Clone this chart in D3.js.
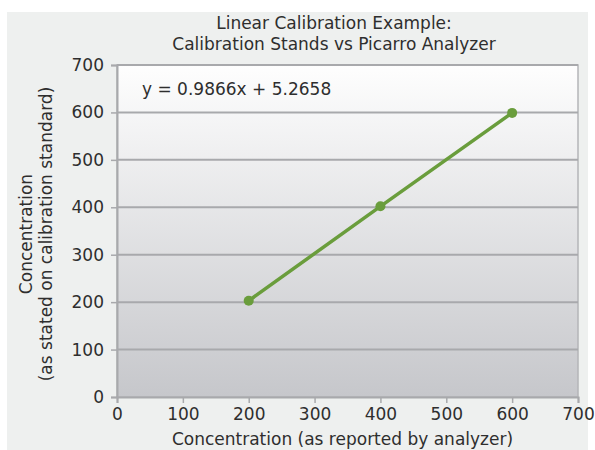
<!DOCTYPE html>
<html>
<head>
<meta charset="utf-8">
<script src="https://cdn.jsdelivr.net/npm/d3@7"></script>
<style>
  body { margin: 0; background: #fff; }
  text { font-family: "DejaVu Sans", sans-serif; fill: #2e2e2e; }
</style>
</head>
<body>
<div id="chart"></div>
<script>
// data
var reported = [200, 400, 600];
var stated = [203, 402, 599];
var xTicks = [0, 100, 200, 300, 400, 500, 600, 700];
var yTicks = [0, 100, 200, 300, 400, 500, 600, 700];
var titleLines = ["Linear Calibration Example:", "Calibration Stands vs Picarro Analyzer"];
var equation = "y = 0.9866x + 5.2658";

var W = 595, H = 450;
var margin = {top: 65, right: 17, bottom: 53, left: 117};
var width = W - margin.left - margin.right,
    height = H - margin.top - margin.bottom;

var svg = d3.select("#chart").append("svg")
   .attr("width", W)
   .attr("height", H);

//outer grey panel
svg.append("rect")
   .attr("x", 7).attr("y", 12)
   .attr("width", 581).attr("height", H - 12)
   .style("fill", "#eef0ef");

var defs = svg.append("defs");
var grad = defs.append("linearGradient")
   .attr("id", "plotbg")
   .attr("x1", 0).attr("y1", 0).attr("x2", 0).attr("y2", 1);
grad.append("stop").attr("offset", "0%").attr("stop-color", "#fefefe");
grad.append("stop").attr("offset", "100%").attr("stop-color", "#c6c7cb");

var g = svg.append("g")
   .attr("transform", "translate(" + margin.left + "," + margin.top + ")");

var x = d3.scaleLinear().domain([0, 700]).range([0, width]);
var y = d3.scaleLinear().domain([0, 700]).range([height, 0]);

g.append("rect")
   .attr("width", width).attr("height", height)
   .style("fill", "url(#plotbg)")
   .style("stroke", "#b4b5b8")
   .style("stroke-width", 1.5);

//horizontal gridlines
g.selectAll(".grid")
   .data(yTicks.slice(1))
   .enter().append("line")
   .attr("class", "grid")
   .attr("x1", 0).attr("x2", width)
   .attr("y1", function(d) { return y(d); })
   .attr("y2", function(d) { return y(d); })
   .style("stroke", "#a8a9ac")
   .style("stroke-width", 2);

//axes
var yAxis = g.append("g")
   .call(d3.axisLeft(y).tickValues(yTicks).tickSize(6).tickPadding(7));
var xAxis = g.append("g")
   .attr("transform", "translate(0," + height + ")")
   .call(d3.axisBottom(x).tickValues(xTicks).tickSize(6).tickPadding(5));

[xAxis, yAxis].forEach(function(a) {
  a.select(".domain").style("stroke", "#a8a9ac").style("stroke-width", 2);
  a.selectAll(".tick line").style("stroke", "#a8a9ac").style("stroke-width", 1.5);
  a.selectAll("text")
   .style("font-family", "DejaVu Sans, sans-serif")
   .style("font-size", "17px")
   .style("fill", "#2e2e2e");
});

//calibration line
var pts = reported.map(function(d, i) { return [d, stated[i]]; });
g.append("path")
   .datum(pts)
   .attr("d", d3.line().x(function(d) { return x(d[0]); }).y(function(d) { return y(d[1]); }))
   .style("fill", "none")
   .style("stroke", "#6a9d3c")
   .style("stroke-width", 3.5);
g.selectAll(".pt")
   .data(pts)
   .enter().append("circle")
   .attr("cx", function(d) { return x(d[0]); })
   .attr("cy", function(d) { return y(d[1]); })
   .attr("r", 5)
   .style("fill", "#6a9d3c");

//equation
g.append("text")
   .attr("x", 25).attr("y", 30)
   .style("font-size", "17px")
   .text(equation);

//title
svg.selectAll(".title")
   .data(titleLines)
   .enter().append("text")
   .attr("x", 334)
   .attr("y", function(d, i) { return 29 + i * 21; })
   .attr("text-anchor", "middle")
   .style("font-size", "17px")
   .text(function(d) { return d; });

//axis labels
svg.append("text")
   .attr("x", margin.left + width / 2 - 5)
   .attr("y", 445)
   .attr("text-anchor", "middle")
   .style("font-size", "17px")
   .text("Concentration (as reported by analyzer)");

var yl = svg.append("text")
   .attr("transform", "translate(32,234) rotate(-90)")
   .attr("text-anchor", "middle")
   .style("font-size", "17px");
yl.append("tspan").attr("x", 0).attr("dy", 0).text("Concentration");
yl.append("tspan").attr("x", 0).attr("dy", 20).text("(as stated on calibration standard)");
</script>
</body>
</html>
